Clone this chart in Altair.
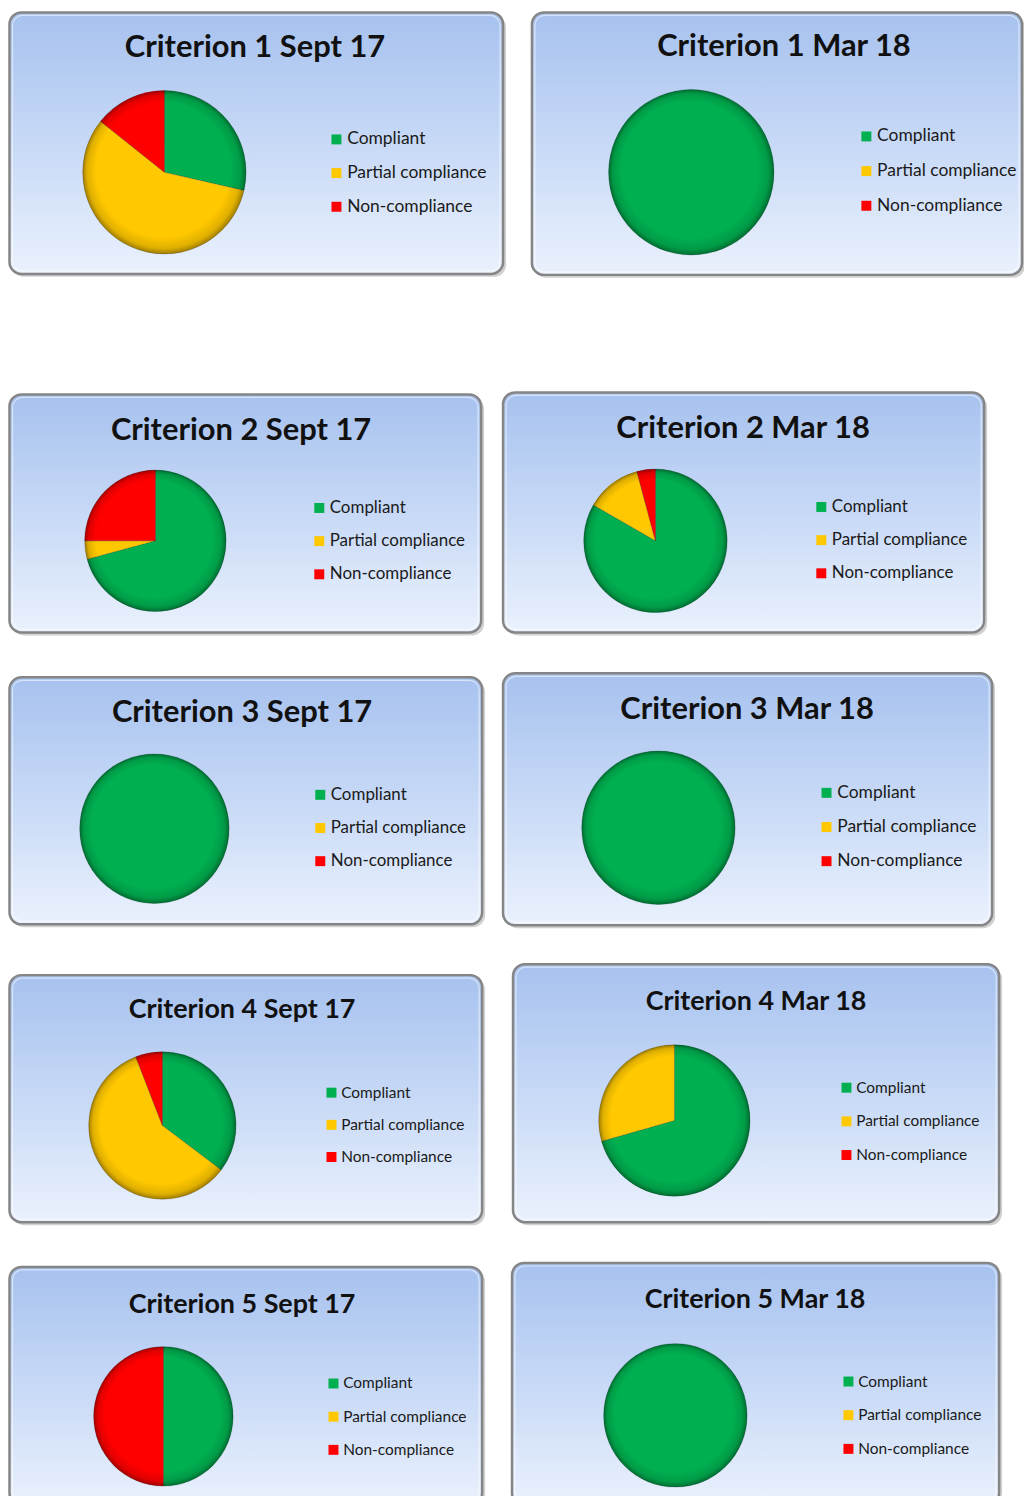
import math
import altair as alt
import pandas as pd

# ---------------- data ----------------
categories = ["Compliant", "Partial compliance", "Non-compliance"]
colors = ["#00B050", "#FFC800", "#FF0000"]
titles = [
    "Criterion 1 Sept 17", "Criterion 1 Mar 18",
    "Criterion 2 Sept 17", "Criterion 2 Mar 18",
    "Criterion 3 Sept 17", "Criterion 3 Mar 18",
    "Criterion 4 Sept 17", "Criterion 4 Mar 18",
    "Criterion 5 Sept 17", "Criterion 5 Mar 18",
]
compliant = [2, 1, 17, 20, 1, 1, 6, 12, 1, 1]
partial = [4, 0, 1, 3, 0, 0, 10, 5, 0, 0]
noncompliant = [1, 0, 6, 1, 0, 0, 1, 0, 1, 0]

# ---------------- layout / style (pixels) ----------------
W, H = 1020, 1488
box_x0 = [1.5, 526, 1.5, 497, 1.5, 497, 1.5, 507, 1.5, 506]
box_x1 = [497, 1018, 475, 980, 476, 988, 476, 995, 476, 995]
box_y0 = [1.5, 1.5, 385, 383, 669, 665, 968, 957, 1261, 1257]
box_y1 = [264, 265, 624, 624, 917, 918, 1216, 1216, 1500, 1500]
pie_x = [157, 686, 148, 650, 147, 653, 155, 669, 156, 670]
pie_y = [162, 162, 532, 532, 821, 820, 1119, 1114, 1411, 1410]
pie_r = [82, 83, 71, 72, 75, 77, 74, 76, 70, 72]
title_x = [248, 779, 234, 738, 235, 742, 235, 751, 235, 750]
title_y = [46, 45, 431, 429, 714, 711, 1011, 1003, 1307, 1302]
title_fs = [31, 31, 31, 31, 31, 31, 27, 27, 27, 27]
leg_x = [321, 853, 304, 808, 305, 813, 317, 834, 319, 836]
leg_yc = [129, 126, 499, 498, 787, 785, 1086, 1081, 1378, 1376]
leg_pitch = [33.5, 34.5, 33.5, 33.5, 33.5, 34, 32, 33.5, 33, 33.5]
leg_fs = [17.5, 17.5, 17, 17, 17, 17.5, 15.5, 15.5, 15.5, 15.5]

panel_fill = {
    "gradient": "linear", "x1": 0, "y1": 0, "x2": 0, "y2": 1,
    "stops": [
        {"offset": 0, "color": "#A7C2EF"},
        {"offset": 0.5, "color": "#C7D9F6"},
        {"offset": 1, "color": "#EAF1FD"},
    ],
}
rim_fill = {
    "gradient": "radial", "x1": 0.45, "y1": 0.42, "r1": 0,
    "x2": 0.5, "y2": 0.5, "r2": 0.5,
    "stops": [
        {"offset": 0, "color": "rgba(255,255,255,0.0)"},
        {"offset": 0.82, "color": "rgba(0,0,0,0.0)"},
        {"offset": 0.94, "color": "rgba(0,0,0,0.12)"},
        {"offset": 1, "color": "rgba(0,0,0,0.38)"},
    ],
}


def panel_layers(i):
    df = pd.DataFrame({
        "category": categories,
        "value": [compliant[i], partial[i], noncompliant[i]],
        "k": [0, 1, 2],
    })
    tdf = pd.DataFrame({"title": [titles[i]]})

    shadow = alt.Chart(tdf).mark_rect(
        fill="#9a9a9a", opacity=0.45, cornerRadius=12
    ).encode(
        x=alt.value(box_x0[i] + 3), x2=alt.value(box_x1[i] + 3),
        y=alt.value(box_y0[i] + 3), y2=alt.value(box_y1[i] + 3),
    )
    bg = alt.Chart(tdf).mark_rect(
        fill=panel_fill, stroke="#858585", strokeWidth=2.5, cornerRadius=12
    ).encode(
        x=alt.value(box_x0[i]), x2=alt.value(box_x1[i]),
        y=alt.value(box_y0[i]), y2=alt.value(box_y1[i]),
    )
    gloss = alt.Chart(tdf).mark_rect(
        fillOpacity=0, stroke="#ffffff", strokeOpacity=0.55, strokeWidth=1.2,
        cornerRadius=10
    ).encode(
        x=alt.value(box_x0[i] + 3), x2=alt.value(box_x1[i] - 3),
        y=alt.value(box_y0[i] + 3), y2=alt.value(box_y1[i] - 3),
    )

    pie = alt.Chart(df).transform_filter("datum.value > 0").mark_arc(
        outerRadius=pie_r[i], stroke="#000000", strokeOpacity=0.18, strokeWidth=1
    ).encode(
        theta=alt.Theta("value:Q", stack=True),
        color=alt.Color(
            "category:N",
            scale=alt.Scale(domain=categories, range=colors),
            legend=alt.Legend(
                title=None, orient="none",
                legendX=leg_x[i], legendY=leg_yc[i] - leg_fs[i] / 2,
                symbolType="square", symbolSize=100, symbolStrokeWidth=0,
                labelFont="Lato", labelFontSize=leg_fs[i], labelColor="#1a1a1a",
                labelOffset=2, rowPadding=leg_pitch[i] - leg_fs[i] - 1.2,
                padding=0,
            ),
        ),
        order=alt.Order("k:Q"),
        x=alt.value(pie_x[i]), y=alt.value(pie_y[i]),
    )

    rim = alt.Chart(tdf).mark_arc(
        outerRadius=pie_r[i], theta=2 * math.pi, fill=rim_fill
    ).encode(x=alt.value(pie_x[i]), y=alt.value(pie_y[i]))

    ttl = alt.Chart(tdf).mark_text(
        font="Lato", fontWeight="bold", fontSize=title_fs[i],
        align="center", baseline="alphabetic", color="#111111",
    ).encode(text="title:N", x=alt.value(title_x[i]), y=alt.value(title_y[i]))

    return [shadow, bg, gloss, pie, rim, ttl]


layers = []
for i in range(10):
    layers.extend(panel_layers(i))

chart = alt.layer(*layers).resolve_scale(
    color="independent", theta="independent"
).resolve_legend(color="independent").properties(
    width=W, height=H, padding=0, background="white",
    autosize=alt.AutoSizeParams(type="none"),
).configure_view(strokeWidth=0)

chart.save("out.html", embed_options={"renderer": "svg", "actions": False})
